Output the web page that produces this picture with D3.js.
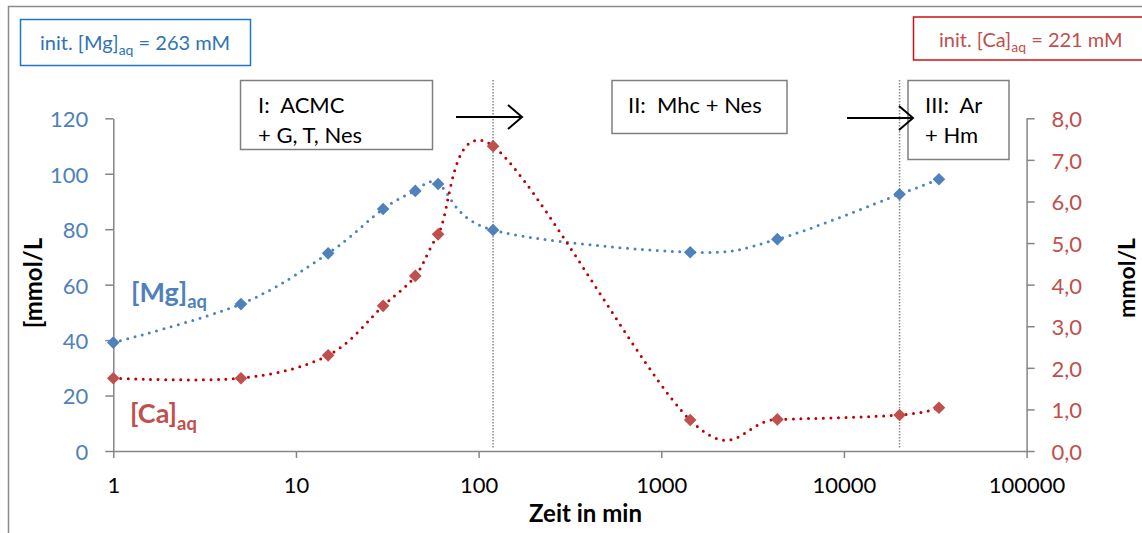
<!DOCTYPE html>
<html>
<head>
<meta charset="utf-8">
<script src="https://cdn.jsdelivr.net/npm/d3@7"></script>
<style>
  html, body { margin: 0; padding: 0; background: #fff; }
  svg { display: block; font-family: Lato, "Open Sans", sans-serif; }
  .pre { white-space: pre; }
</style>
</head>
<body>
<svg id="chart" width="1142" height="533"></svg>
<script>
// Sampling times (min) and dissolved concentrations
const times = [1, 5, 15, 30, 45, 60, 120, 1440, 4320, 20160, 33120];
const mgValues = [39.1, 53.0, 71.3, 87.3, 93.8, 96.3, 79.7, 71.7, 76.4, 92.6, 98.0];   // mmol/L, left axis
const caValues = [1.75, 1.75, 2.30, 3.49, 4.21, 5.21, 7.33, 0.745, 0.76, 0.865, 1.04]; // mmol/L, right axis

// Axis ticks
const xTicks = [1, 10, 100, 1000, 10000, 100000];
const mgTicks = [0, 20, 40, 60, 80, 100, 120];
const caTicks = [0, 1, 2, 3, 4, 5, 6, 7, 8];

// Phase boundaries (min) and phase labels
const phaseBoundaries = [120, 20160];
const phaseLabels = [
  ["I:  ACMC", "+ G, T, Nes"],
  ["II:  Mhc + Nes"],
  ["III:  Ar", "+ Hm"]
];

const BLUE = "#4F81BD", RED = "#C0504D", RED_LINE = "#C00000", AXIS = "#868686";

const svg = d3.select("#chart");

const x = d3.scaleLog().domain([1, 100000]).range([113.3, 1026.6]);
const yMg = d3.scaleLinear().domain([0, 120]).range([451, 118.3]);
const yCa = d3.scaleLinear().domain([0, 8]).range([451, 118.3]);

// Outer chart frame (top and left edges)
svg.append("path")
  .attr("d", "M8.5,533 V6.5 H1142")
  .attr("fill", "none").attr("stroke", "#8c8c8c").attr("stroke-width", 1.5);

// Phase boundaries
svg.selectAll("line.phase").data(phaseBoundaries).enter().append("line")
  .attr("class", "phase")
  .attr("x1", d => x(d)).attr("x2", d => x(d))
  .attr("y1", 80).attr("y2", 449)
  .attr("stroke", "#8a8a8a").attr("stroke-width", 1.5)
  .attr("stroke-dasharray", "1.5 1.5");

// Axes
const axisLeft = svg.append("g").attr("transform", `translate(${x(1)},0)`)
  .call(d3.axisLeft(yMg).tickValues(mgTicks).tickSize(8).tickSizeOuter(0).tickPadding(17));
const axisRight = svg.append("g").attr("transform", `translate(${x(100000)},0)`)
  .call(d3.axisRight(yCa).tickValues(caTicks).tickSize(8).tickSizeOuter(0).tickPadding(17)
    .tickFormat(d => d.toFixed(1).replace(".", ",")));
const axisBottom = svg.append("g").attr("transform", `translate(0,${yMg(0)})`)
  .call(d3.axisBottom(x).tickValues(xTicks).tickSize(7).tickSizeOuter(0)
    .tickFormat(d3.format("d")));

[axisLeft, axisRight, axisBottom].forEach(g => {
  g.selectAll("path.domain").attr("stroke", AXIS).attr("stroke-width", 1.5);
  g.selectAll(".tick line").attr("stroke", AXIS).attr("stroke-width", 1.5);
  g.selectAll("text").attr("font-family", "Lato, sans-serif").attr("font-size", 22);
});
axisLeft.selectAll("text").attr("fill", BLUE).attr("dy", "0.38em");
axisRight.selectAll("text").attr("fill", RED).attr("dy", "0.38em");
axisBottom.selectAll("text").attr("fill", "#000").attr("y", 42).attr("dy", 0);

// Axis titles
svg.append("text").attr("transform", "translate(42,283) rotate(-90)")
  .attr("text-anchor", "middle").attr("font-weight", "bold").attr("font-size", 24)
  .text("[mmol/L");
svg.append("text").attr("transform", "translate(1135,278) rotate(-90)")
  .attr("text-anchor", "middle").attr("font-weight", "bold").attr("font-size", 23)
  .text("mmol/L");
svg.append("text").attr("x", 585.5).attr("y", 521.5)
  .attr("text-anchor", "middle").attr("font-weight", "bold").attr("font-size", 24)
  .text("Zeit in min");

// Series
const series = [
  { values: mgValues, y: yMg, line: BLUE, marker: BLUE },
  { values: caValues, y: yCa, line: RED_LINE, marker: RED }
];
const smooth = d3.curveCardinal.tension(0);
const diamond = d3.symbol(d3.symbolSquare, 80);

series.forEach(s => {
  const pts = times.map((t, i) => [x(t), s.y(s.values[i])]);
  svg.append("path")
    .attr("d", d3.line().curve(smooth)(pts))
    .attr("fill", "none").attr("stroke", s.line).attr("stroke-width", 3)
    .attr("stroke-linecap", "round").attr("stroke-dasharray", "0 7.5");
  svg.append("g").selectAll("path").data(pts).enter().append("path")
    .attr("d", diamond)
    .attr("transform", d => `translate(${d[0]},${d[1]}) rotate(45)`)
    .attr("fill", s.marker);
});

// Series labels
function subLabel(xp, yp, main, sub, color, size) {
  const t = svg.append("text").attr("x", xp).attr("y", yp)
    .attr("font-weight", "bold").attr("font-size", size).attr("fill", color);
  t.append("tspan").text(main);
  t.append("tspan").attr("dy", size * 0.25).attr("font-size", size * 0.68).text(sub);
}
subLabel(131, 301.5, "[Mg]", "aq", BLUE, 27);
subLabel(130, 423, "[Ca]", "aq", RED, 27);

// Initial concentration boxes
function initBox(bx, by, bw, bh, border, color, tx, ty, el, val) {
  svg.append("rect").attr("x", bx).attr("y", by).attr("width", bw).attr("height", bh)
    .attr("fill", "#fff").attr("stroke", border).attr("stroke-width", 1.5);
  const t = svg.append("text").attr("x", tx).attr("y", ty)
    .attr("font-size", 20).attr("fill", color);
  t.append("tspan").text(`init. [${el}]`);
  t.append("tspan").attr("dy", 5).attr("font-size", 14).text("aq");
  t.append("tspan").attr("dy", -5).text(` = ${val} mM`);
}
initBox(20.5, 19.5, 230, 46, "#1F77C4", "#2E74B5", 40, 50, "Mg", 263);
initBox(913.5, 17, 240, 43, "#D01010", RED, 939, 47, "Ca", 221);

// Phase boxes
const phaseBoxes = [
  { x: 240.5, y: 80.5, w: 192, h: 69, tx: 258 },
  { x: 612, y: 80.5, w: 175, h: 53, tx: 628 },
  { x: 908, y: 80.5, w: 101, h: 79, tx: 925 }
];
phaseBoxes.forEach((b, i) => {
  svg.append("rect").attr("x", b.x).attr("y", b.y).attr("width", b.w).attr("height", b.h)
    .attr("fill", "#fff").attr("stroke", "#7f7f7f").attr("stroke-width", 1.5);
  phaseLabels[i].forEach((line, j) => {
    svg.append("text").attr("class", "pre").attr("x", b.tx).attr("y", 113 + j * 29.5)
      .attr("font-size", 22).attr("fill", "#000").text(line);
  });
});

// Transition arrows
const arrows = [
  { x1: 456, x2: 522, y: 117 },
  { x1: 847, x2: 913, y: 118 }
];
arrows.forEach(a => {
  svg.append("path")
    .attr("d", `M${a.x1},${a.y} H${a.x2} M${a.x2 - 14},${a.y - 12} L${a.x2},${a.y} L${a.x2 - 14},${a.y + 12}`)
    .attr("fill", "none").attr("stroke", "#000").attr("stroke-width", 2);
});
</script>
</body>
</html>
